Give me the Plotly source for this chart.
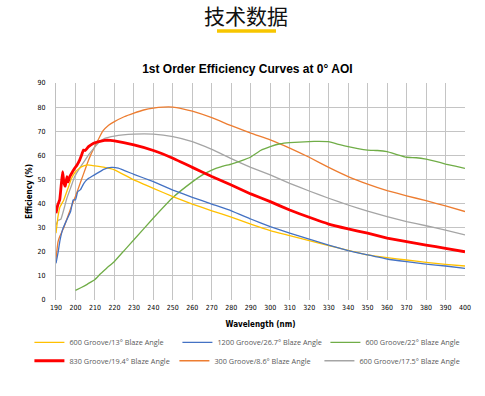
import plotly.graph_objects as go

# ---------------- data ----------------
wl_yellow = [190, 191, 192, 194, 196, 198, 200, 203, 206, 210, 215, 220, 230, 240, 250, 260, 270, 280, 290,
             300, 310, 320, 330, 340, 350, 360, 370, 380, 390, 400]
eff_yellow = [27.7, 34.5, 38.5, 41.5, 46.0, 50.5, 53.2, 55.2, 56.0, 55.6, 55.0, 54.0, 49.8, 46.3, 42.9, 39.8, 37.0,
              34.4, 31.5, 28.8, 26.7, 24.6, 22.6, 20.6, 18.7, 17.6, 16.6, 15.6, 14.8, 14.1]

wl_blue = [190, 191, 192, 193.5, 195.5, 197.5, 198.8, 200, 201.2, 202.6, 204.3, 206, 208.5, 211, 214.5, 218.5,
           222, 230, 240, 250, 260, 270, 280, 290, 300, 310, 320, 330, 340, 350, 360, 370, 380, 390, 400]
eff_blue = [15.2, 19.4, 24.5, 29.5, 33.2, 36.7, 41.5, 41.5, 45.0, 45.8, 48.4, 50.0, 51.3, 52.5, 54.2, 55.0,
            54.7, 52.1, 49.1, 45.6, 42.6, 39.8, 37.0, 33.6, 30.4, 27.7, 25.2, 22.8, 20.5, 18.7, 17.0, 15.9, 14.9,
            14.1, 13.1]

wl_green = [200, 203, 206, 208, 210, 213, 216, 220, 225, 230, 240, 250, 260, 265, 270, 275, 280, 285, 290, 295,
            300, 305, 310, 320, 325, 330, 335, 340, 345, 350, 355, 360, 365, 370, 375, 380, 385, 390, 395, 400]
eff_green = [4.0, 5.2, 6.5, 7.5, 8.5, 11.0, 13.2, 16.0, 20.5, 25.0, 34.0, 42.5, 49.0, 51.8, 53.9, 55.3, 56.4, 57.7,
             59.3, 62.0, 63.6, 64.8, 65.3, 65.7, 65.8, 65.7, 64.5, 63.6, 62.8, 62.2, 62.0, 61.5, 60.3, 59.2, 59.0,
             58.4, 57.5, 56.4, 55.5, 54.6]

wl_red = [190, 190.9, 191.9, 192.6, 193.4, 194.1, 194.8, 195.6, 196.2, 197, 198.2, 199.5, 200.8, 202, 203.3,
          204.1, 205, 206.7, 209.3, 212, 215, 218, 220, 230, 240, 250, 260, 270, 280, 290, 300, 310, 320, 330,
          340, 350, 360, 370, 380, 390, 400]
eff_red = [36.0, 39.4, 41.5, 47.0, 53.2, 48.5, 47.2, 51.2, 49.0, 51.0, 52.8, 54.5, 56.0, 57.8, 60.5, 62.2, 62.0,
           63.6, 65.0, 65.7, 66.2, 66.2, 66.0, 64.3, 62.0, 58.8, 55.0, 51.2, 47.7, 44.0, 40.8, 37.3, 34.3, 31.5,
           29.5, 27.7, 25.7, 24.2, 22.8, 21.4, 20.0]

wl_orange = [190, 191, 192, 194, 196, 198, 200, 202, 204, 206, 208, 210, 212, 214, 217, 220, 225, 230, 235, 240,
             245, 250, 255, 260, 270, 280, 290, 300, 310, 320, 330, 340, 350, 360, 370, 380, 390, 400]
eff_orange = [17.0, 24.0, 26.5, 30.0, 34.5, 39.0, 43.0, 47.5, 52.0, 56.5, 60.5, 63.8, 67.0, 70.0, 72.5, 74.0, 76.0,
              77.5, 78.8, 79.6, 80.0, 80.0, 79.3, 78.3, 75.6, 72.3, 69.2, 66.4, 63.0, 59.2, 55.0, 51.2, 48.1, 45.4,
              43.2, 41.2, 39.0, 36.7]

wl_gray = [190, 191, 192.5, 194, 195.5, 197.5, 199.5, 202, 204.5, 207, 209.5, 212, 215, 220, 230, 240, 250, 260,
           270, 280, 290, 300, 310, 320, 330, 340, 350, 360, 370, 380, 390, 400]
eff_gray = [31.0, 33.0, 33.5, 37.5, 42.0, 46.5, 51.0, 54.5, 57.5, 60.5, 63.0, 65.3, 67.0, 68.0, 68.8, 68.8, 67.8,
            65.7, 62.5, 58.6, 55.0, 51.9, 48.4, 45.2, 42.2, 39.4, 36.9, 34.6, 32.5, 30.8, 29.0, 27.0]

series_names = ["600 Groove/13° Blaze Angle", "1200 Groove/26.7° Blaze Angle", "600 Groove/22° Blaze Angle",
                "830 Groove/19.4° Blaze Angle", "300 Groove/8.6° Blaze Angle", "600 Groove/17.5° Blaze Angle"]

page_title = "技术数据"
chart_title = "1st Order Efficiency Curves at 0° AOI"
x_title = "Wavelength (nm)"
y_title = "Efficiency (%)"

# ---------------- figure ----------------
colors = ["#ffc000", "#4472c4", "#70ad47", "#ff0000", "#ed7d31", "#a5a5a5"]
widths = [1.3, 1.3, 1.3, 2.8, 1.3, 1.3]
xs = [wl_yellow, wl_blue, wl_green, wl_red, wl_orange, wl_gray]
ys = [eff_yellow, eff_blue, eff_green, eff_red, eff_orange, eff_gray]
legends = ["legend", "legend", "legend", "legend2", "legend2", "legend2"]

fig = go.Figure()
draw_order = [4, 5, 2, 0, 1, 3]  # red drawn last (on top)
for i in draw_order:
    fig.add_trace(go.Scatter(
        x=xs[i], y=ys[i], mode="lines", name=series_names[i],
        line=dict(color=colors[i], width=widths[i], shape="spline", smoothing=0.3),
        legend=legends[i], showlegend=True, legendrank=i + 1,
    ))

tick_font = dict(family="DejaVu Sans Condensed, Liberation Sans Narrow, sans-serif", size=7, color="#000000")
legend_font = dict(family="Open Sans, Liberation Sans, sans-serif", size=7.3, color="#595959")

fig.update_layout(
    width=485, height=396,
    margin=dict(l=56, r=20, t=83, b=96),
    paper_bgcolor="white", plot_bgcolor="white",
    title=dict(text="<b>" + chart_title + "</b>", x=0.51, xanchor="center", y=1 - 69 / 396, yanchor="middle",
               font=dict(family="Liberation Sans, Arial, sans-serif", size=12, color="#000000")),
    xaxis=dict(range=[190, 400], dtick=10, tick0=190, showgrid=True, gridcolor="#c4c4c4", gridwidth=1,
               zeroline=False, showline=False, ticks="", tickfont=tick_font, ticklabelstandoff=2,
               title=dict(text="<b>" + x_title + "</b>", font=dict(family=tick_font["family"], size=8, color="#000"),
                          standoff=10)),
    yaxis=dict(range=[0, 90], dtick=10, showgrid=True, gridcolor="#c4c4c4", gridwidth=1,
               zeroline=False, showline=True, linecolor="#bfbfbf", linewidth=1, ticks="", tickfont=tick_font,
               ticklabelstandoff=8,
               title=dict(text="<b>" + y_title + "</b>", font=dict(family=tick_font["family"], size=8, color="#000"),
                          standoff=3)),
    legend=dict(orientation="h", x=-0.065, xanchor="left", y=-0.195, yanchor="middle",
                font=legend_font, entrywidth=103, entrywidthmode="pixels", bgcolor="rgba(0,0,0,0)",
                itemwidth=30, tracegroupgap=0),
    legend2=dict(orientation="h", x=-0.065, xanchor="left", y=-0.28, yanchor="middle",
                 font=legend_font, entrywidth=100, entrywidthmode="pixels", bgcolor="rgba(0,0,0,0)",
                 itemwidth=30, tracegroupgap=0),
    annotations=[dict(text=page_title, xref="paper", yref="paper", x=0.465, y=(300 - 15) / 217,
                      xanchor="center", yanchor="middle", showarrow=False,
                      font=dict(family="Noto Sans CJK SC", size=21, color="#111111"))],
    shapes=[dict(type="rect", xref="paper", yref="paper", x0=(217 - 56) / 409, x1=(276 - 56) / 409,
                 y0=(300 - 32.7) / 217, y1=(300 - 29.3) / 217, fillcolor="#f7c600", line=dict(width=0))],
)

fig.write_html("out.html", config={"displayModeBar": False},
               post_script="document.body.style.margin='0px';")
